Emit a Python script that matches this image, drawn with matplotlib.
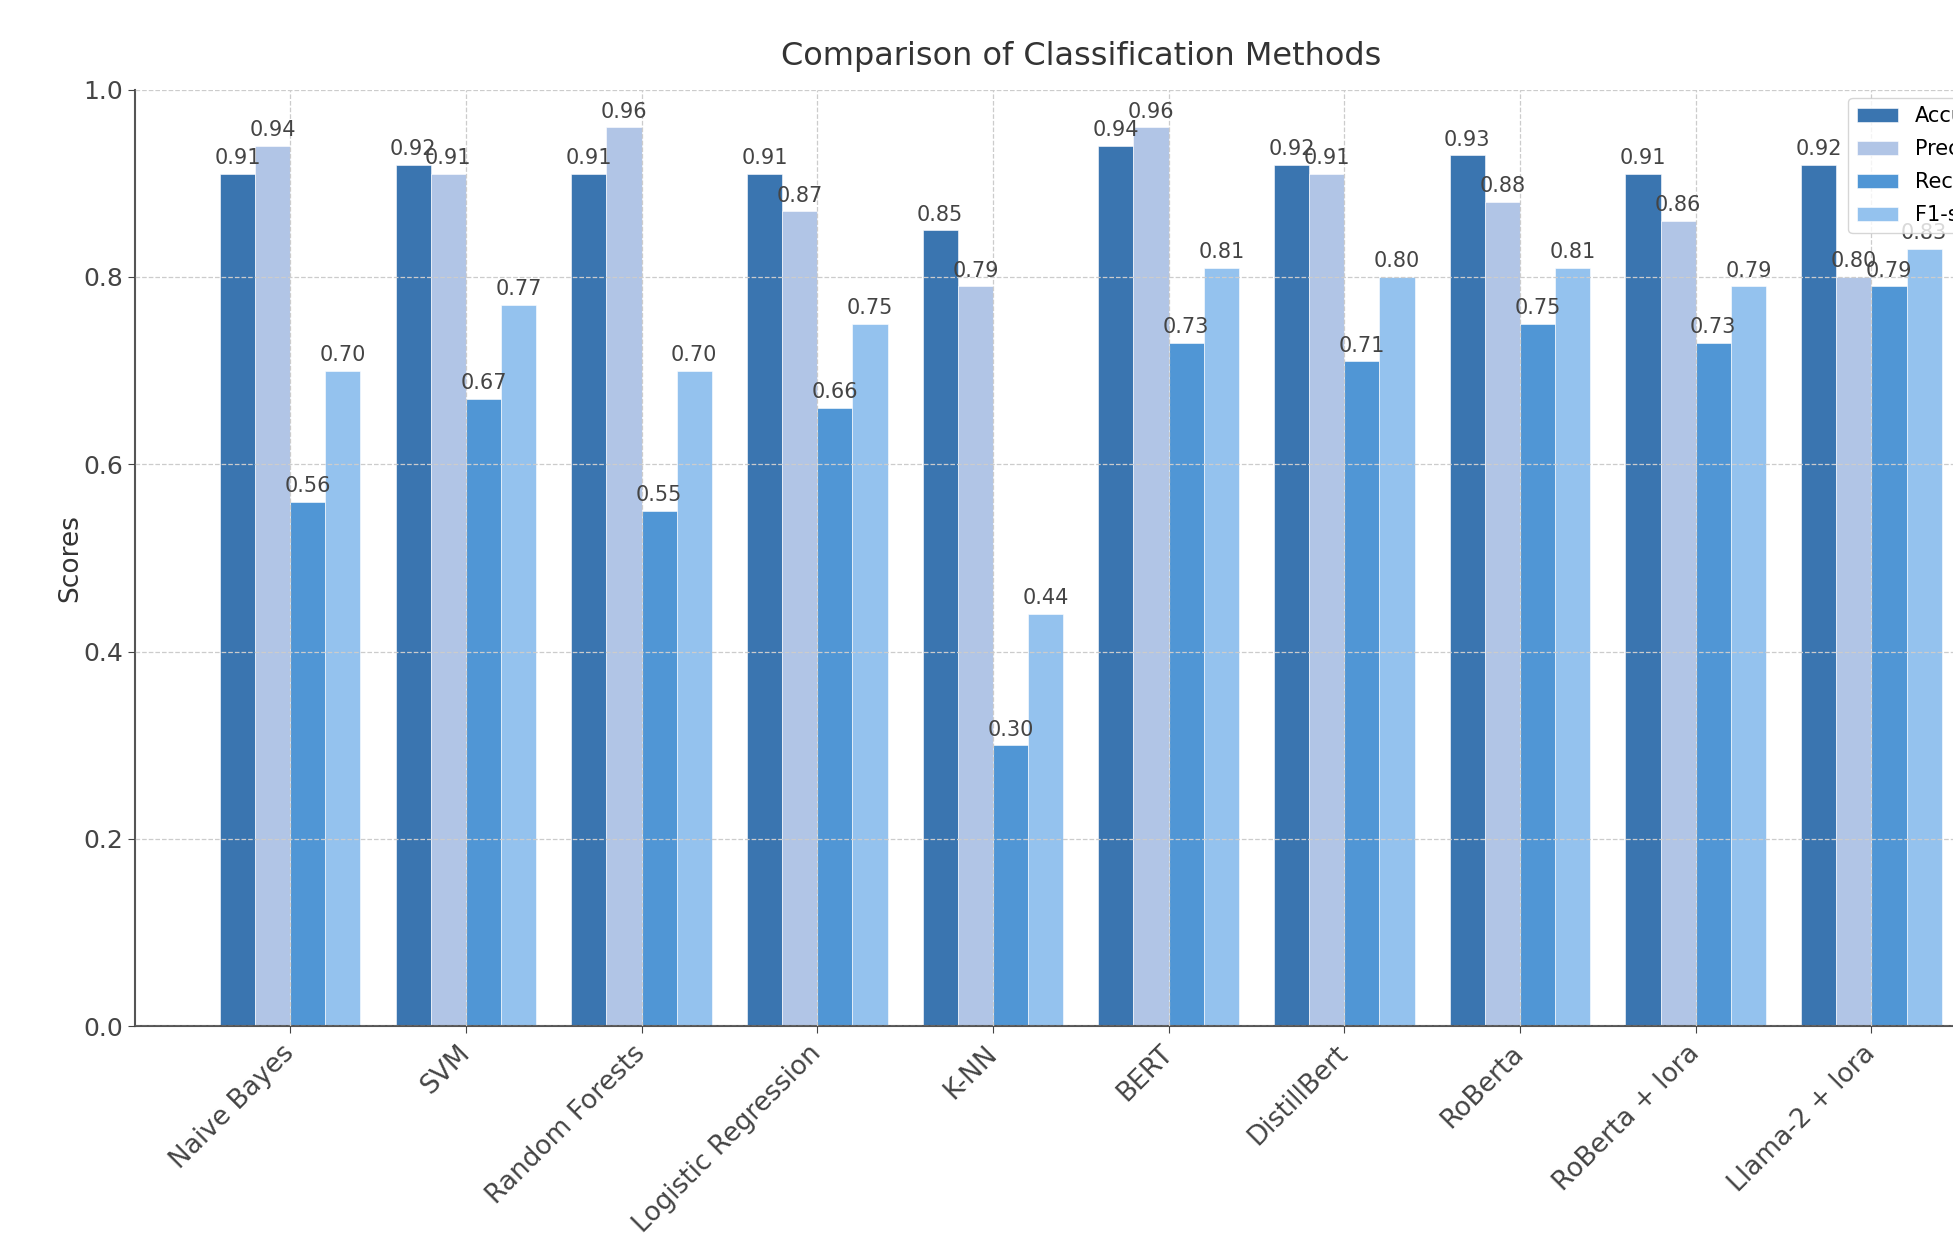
import numpy as np
import matplotlib.pyplot as plt

methods = ["Naive Bayes", "SVM", "Random Forests", "Logistic Regression", "K-NN",
           "BERT", "DistillBert", "RoBerta", "RoBerta + lora", "Llama-2 + lora"]
accuracy = [0.91, 0.92, 0.91, 0.91, 0.85, 0.94, 0.92, 0.93, 0.91, 0.92]
precision = [0.94, 0.91, 0.96, 0.87, 0.79, 0.96, 0.91, 0.88, 0.86, 0.80]
recall = [0.56, 0.67, 0.55, 0.66, 0.30, 0.73, 0.71, 0.75, 0.73, 0.79]
f1_score = [0.70, 0.77, 0.70, 0.75, 0.44, 0.81, 0.80, 0.81, 0.79, 0.83]

metric_names = ["Accuracy", "Precision", "Recall", "F1-score"]
colors = ["#3a75b0", "#b1c5e6", "#5096d5", "#94c2ee"]
txt = "#333333"

fig = plt.figure(figsize=(19.53, 12.44), dpi=100)
ax = fig.add_axes([0.0689, 0.1752, 0.969, 0.7527])

x = np.arange(len(methods))
w = 0.2
for i, (name, vals) in enumerate(zip(metric_names, [accuracy, precision, recall, f1_score])):
    bars = ax.bar(x + (i - 1.5) * w, vals, w, label=name, color=colors[i],
                  edgecolor="white", linewidth=0.4)
    ax.bar_label(bars, fmt="%.2f", padding=4, fontsize=15, color="#444444")

ax.set_ylim(0, 1.0)
ax.set_xlim(-0.886, 9.886)
ax.set_xticks(x)
ax.set_xticklabels(methods, rotation=45, ha="right", va="center",
                   rotation_mode="anchor", fontsize=19, color=txt)
ax.tick_params(axis="x", pad=12)
ax.tick_params(axis="y", labelsize=18, labelcolor=txt)
ax.tick_params(colors="#444444", length=5)
ax.set_yticks(np.arange(0, 1.01, 0.2))
ax.set_ylabel("Scores", fontsize=19, color=txt, labelpad=0)
ax.set_xlabel("Classification Methods", fontsize=19, color=txt, labelpad=22)
ax.set_title("Comparison of Classification Methods", fontsize=23, color=txt, pad=18)

ax.grid(True, linestyle="--", color="#cccccc", linewidth=0.9)
ax.set_axisbelow(False)
for s in ["top", "right"]:
    ax.spines[s].set_visible(False)
for s in ["left", "bottom"]:
    ax.spines[s].set_color("#555555")
    ax.spines[s].set_linewidth(1.5)

ax.legend(loc="upper right", fontsize=15, borderaxespad=0.4, labelspacing=0.62)

fig.savefig("out.png", dpi=100)
